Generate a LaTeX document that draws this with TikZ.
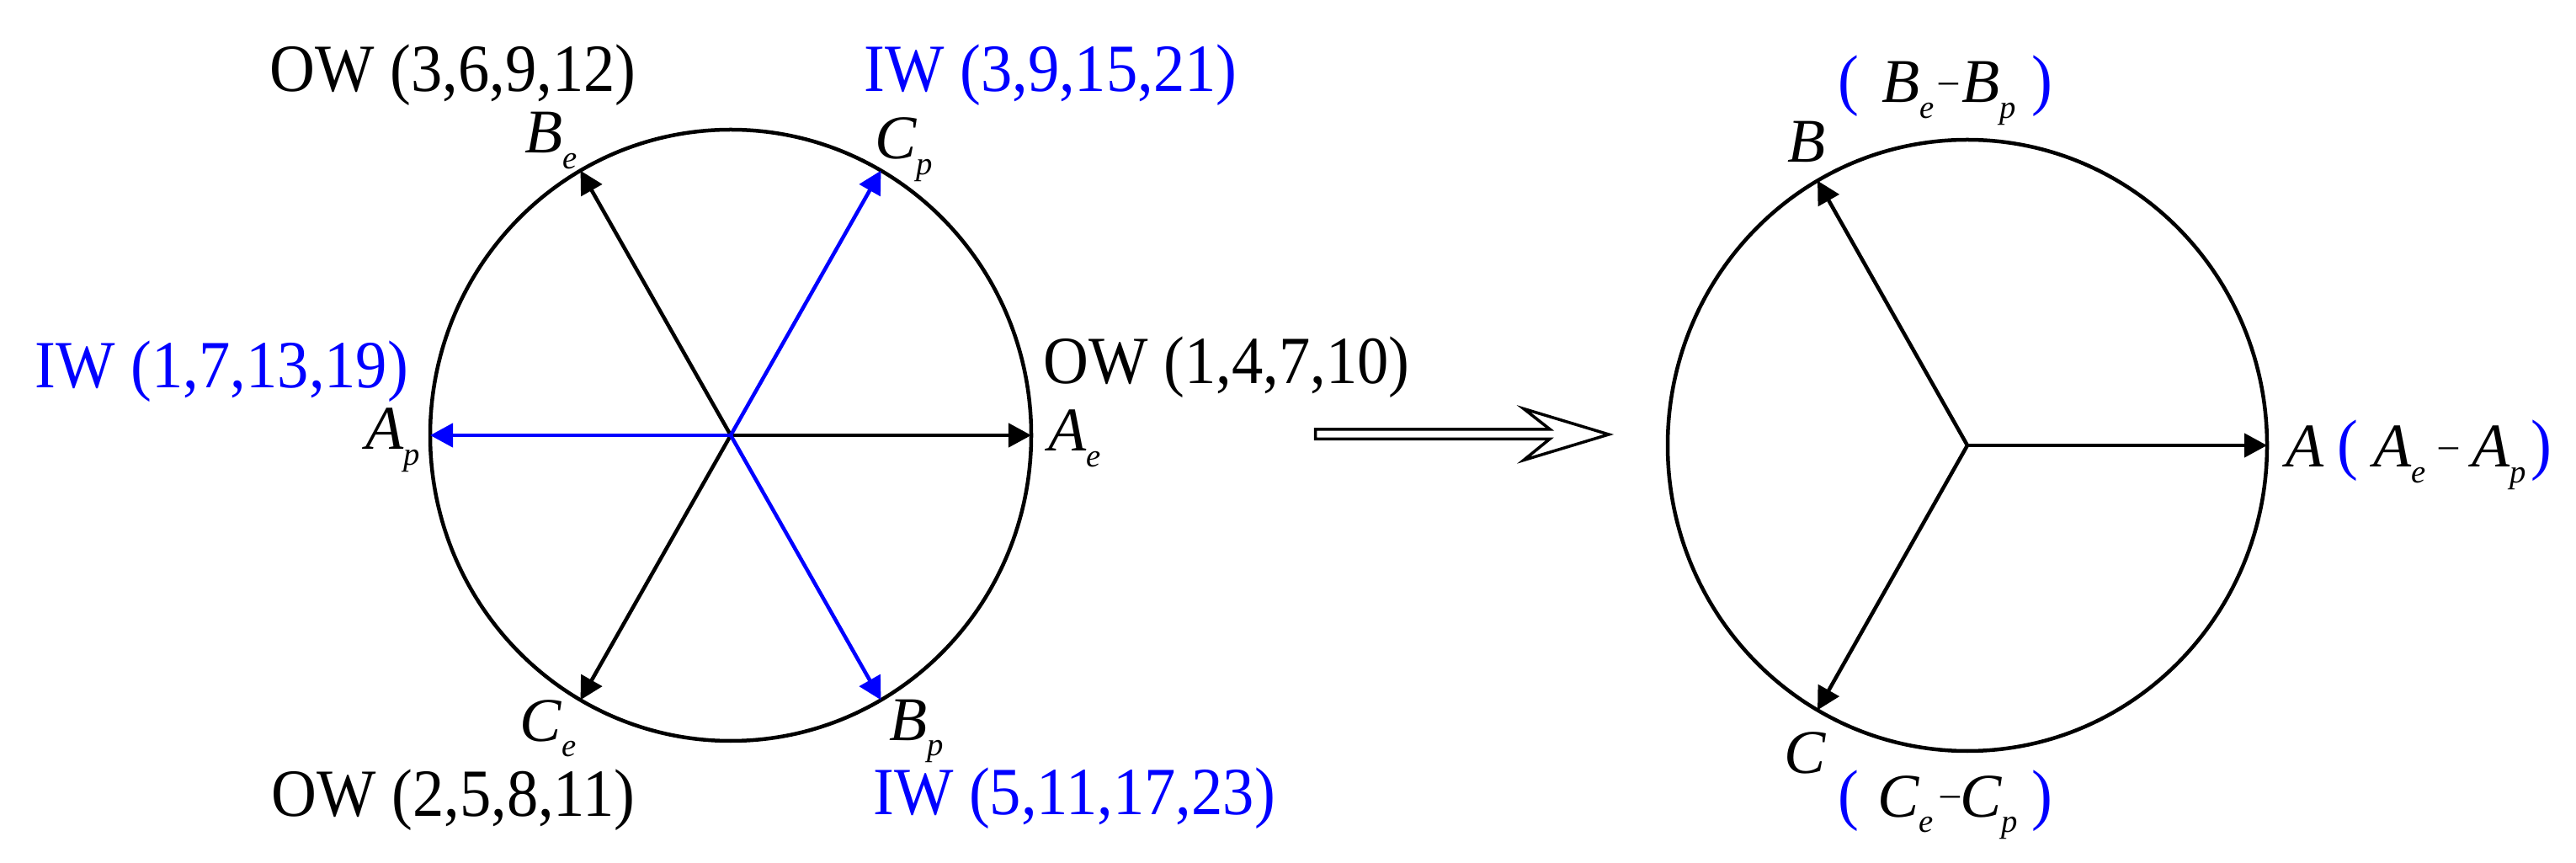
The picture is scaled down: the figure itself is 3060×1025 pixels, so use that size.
\documentclass[tikz,border=0pt]{standalone}
\usepackage{fontspec}
\setmainfont{Liberation Serif}
\usepackage{graphicx}
\usetikzlibrary{arrows.meta}
\newcommand\uplab[1]{\scalebox{0.93}[1]{\fontsize{22.8pt}{26pt}\selectfont #1}}
\newcommand\letr[1]{{\fontsize{21pt}{24pt}\selectfont\itshape #1}}
\newcommand\vsub[2]{\letr{#1}\raisebox{-5.3pt}{\fontsize{11pt}{13pt}\selectfont\itshape #2}}
\newcommand\minusmark{{\fontsize{13pt}{15pt}\selectfont –}}
\begin{document}
\begin{tikzpicture}[x=0.01cm,y=-0.01cm,
  every node/.style={inner sep=0pt,outer sep=0pt},
  ring/.style={line width=0.045cm},
  vecb/.style={line width=0.045cm,-{Triangle[length=0.27cm,width=0.28cm]}},
  vecu/.style={vecb,blue},
  lab/.style={anchor=base},
  labw/.style={anchor=base west},
  fat/.style={line width=0.035cm,fill=white,line join=miter}]
\useasboundingbox (0,0) rectangle (3060,1025);

% ---------- left diagram ----------
\coordinate (O1) at (868,517);
\coordinate (tAe) at (1225,517);
\coordinate (tBe) at (689.5,202.6);
\coordinate (tCe) at (689.5,831.4);
\coordinate (tAp) at (511,517);
\coordinate (tCp) at (1046.5,202.6);
\coordinate (tBp) at (1046.5,831.4);
\draw[ring] (O1) ellipse [x radius=357, y radius=363];
\draw[vecb] (O1) -- (tAe);
\draw[vecb] (O1) -- (tBe);
\draw[vecb] (O1) -- (tCe);
\draw[vecu] (O1) -- (tAp);
\draw[vecu] (O1) -- (tCp);
\draw[vecu] (O1) -- (tBp);

\node[lab] (ow3) at (538,109) {\uplab{OW (3,6,9,12)}};
\node[lab,text=blue] (iw3) at (1248,109) {\uplab{IW (3,9,15,21)}};
\node[lab,text=blue] (iw1) at (263.5,460.7) {\uplab{IW (1,7,13,19)}};
\node[lab] (ow1) at (1457,456) {\uplab{OW (1,4,7,10)}};
\node[lab] (ow2) at (538.5,969) {\uplab{OW (2,5,8,11)}};
\node[lab,text=blue] (iw5) at (1276,968) {\uplab{IW (5,11,17,23)}};

\node[labw] (lBe) at (623.6,182) {\vsub{B}{e}};
\node[labw] (lCp) at (1039.1,189) {\vsub{C}{p}};
\node[labw] (lAp) at (434.5,533.5) {\vsub{A}{p}};
\node[labw] (lAe) at (1245.8,536) {\vsub{A}{e}};
\node[labw] (lCe) at (617.8,880) {\vsub{C}{e}};
\node[labw] (lBp) at (1056.6,879.3) {\vsub{B}{p}};

% ---------- transition arrow ----------
\draw[fat] (1562.5,509.8) -- (1841,509.8) -- (1810,485.5) -- (1911,516)
  -- (1810,546.5) -- (1841,521.3) -- (1562.5,521.3) -- cycle;

% ---------- right diagram ----------
\coordinate (O2) at (2337,529);
\coordinate (tA) at (2693,529);
\coordinate (tB) at (2159,214.6);
\coordinate (tC) at (2159,843.4);
\draw[ring] (O2) ellipse [x radius=356, y radius=363];
\draw[vecb] (O2) -- (tA);
\draw[vecb] (O2) -- (tB);
\draw[vecb] (O2) -- (tC);

\node[labw] (lB) at (2123.6,193) {\letr{B}};
\node[labw] (lC) at (2119,919) {\letr{C}};
\node[labw] (lA) at (2715.8,555) {\letr{A}};

% group A
\node[labw,text=blue] (lparA) at (2776.4,555) {\uplab{(}};
\node[labw] (gAe) at (2819,555) {\vsub{A}{e}};
\node[labw] (mA) at (2897,543.3) {\minusmark};
\node[labw] (gAp) at (2936,555) {\vsub{A}{p}};
\node[labw,text=blue] (rparA) at (3006,555) {\uplab{)}};
% group B
\node[labw,text=blue] (lparB) at (2183.4,122) {\uplab{(}};
\node[labw] (gBe) at (2235.6,122) {\vsub{B}{e}};
\node[labw] (mB) at (2303,110.3) {\minusmark};
\node[labw] (gBp) at (2330.6,122) {\vsub{B}{p}};
\node[labw,text=blue] (rparB) at (2413.8,122) {\uplab{)}};
% group C
\node[labw,text=blue] (lparC) at (2183.4,970) {\uplab{(}};
\node[labw] (gCe) at (2230,970) {\vsub{C}{e}};
\node[labw] (mC) at (2305,957) {\minusmark};
\node[labw] (gCp) at (2328,970) {\vsub{C}{p}};
\node[labw,text=blue] (rparC) at (2413.8,970) {\uplab{)}};
\end{tikzpicture}
\end{document}
